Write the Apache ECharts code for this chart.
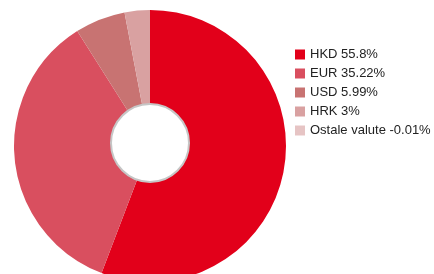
<!DOCTYPE html>
<html>
<head>
<meta charset="utf-8">
<script src="https://cdn.jsdelivr.net/npm/echarts@6/dist/echarts.min.js"></script>
<style>
html, body { margin: 0; padding: 0; background: #fff; }
#main { width: 434px; height: 274px; }
</style>
</head>
<body>
<div id="main"></div>
<script>
var myChart = echarts.init(document.getElementById('main'));

var currencies = ['HKD', 'EUR', 'USD', 'HRK', 'Ostale valute'];
var shares = [55.8, 35.22, 5.99, 3, -0.01];
var colors = ['#e2001a', '#d94f5f', '#c87372', '#d9a1a1', '#e6c4c4'];

var pieData = [];
for (var i = 0; i < currencies.length; i++) {
    pieData.push({
        name: currencies[i],
        value: shares[i] < 0 ? 0 : shares[i],   // negative share can't be drawn
        itemStyle: { color: colors[i] }
    });
}

option = {
    animation: false,
    legend: {
        orient: 'vertical',
        left: 295,
        top: 48,
        padding: 0,
        itemWidth: 10,
        itemHeight: 10,
        itemGap: 6,
        icon: 'rect',
        data: currencies,
        textStyle: {
            fontFamily: 'Liberation Sans',
            fontSize: 13,
            lineHeight: 13,
            color: '#222'
        },
        formatter: function (name) {
            return name + ' ' + shares[currencies.indexOf(name)] + '%';
        }
    },
    series: [
        {
            name: 'valute',
            type: 'pie',
            center: [150, 146],
            radius: [0, 136],
            startAngle: 90,
            clockwise: true,
            silent: true,
            label: { show: false },
            labelLine: { show: false },
            data: pieData
        },
        {
            name: 'hole',
            type: 'pie',
            center: [150, 143],
            radius: [0, 39],
            silent: true,
            label: { show: false },
            itemStyle: {
                color: '#fff',
                borderColor: '#c6c6c6',
                borderWidth: 2
            },
            data: [{ name: '', value: 1 }]
        }
    ]
};

myChart.setOption(option);
</script>
</body>
</html>
